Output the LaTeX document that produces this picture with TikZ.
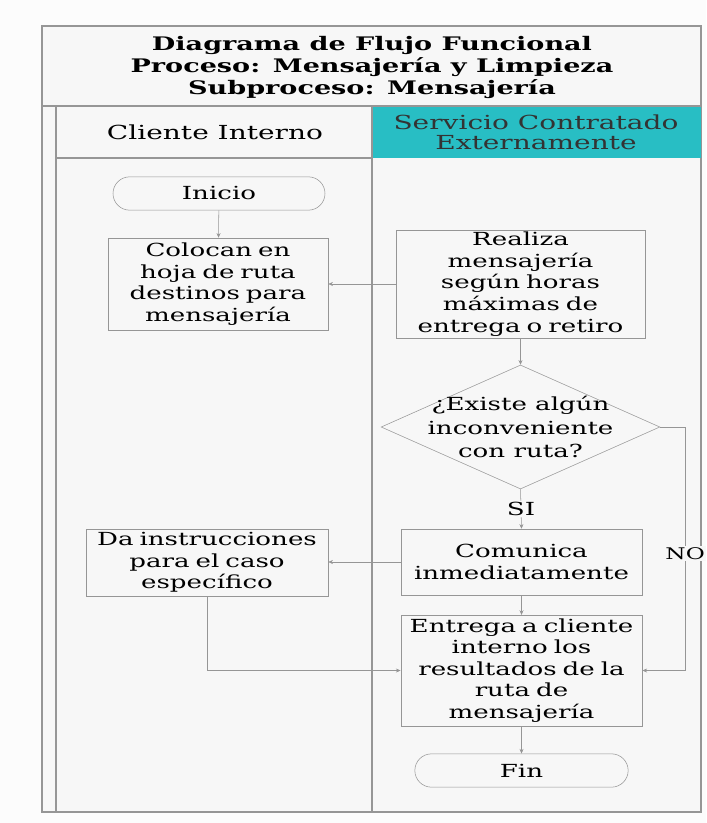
\documentclass[tikz,border=0pt]{standalone}
\usepackage{fontspec}
\setmainfont{DejaVu Serif}[FakeStretch=1.45]
\usetikzlibrary{arrows.meta,shapes.geometric}
\definecolor{lanecyan}{RGB}{40,190,196}
\definecolor{linegray}{RGB}{150,150,150}
\definecolor{pagegray}{RGB}{247,247,247}

\begin{document}
\begin{tikzpicture}[
    x=0.75pt, y=-0.75pt,
    >={Stealth[length=3.5pt,width=3pt]},
    font=\fontsize{13.5}{16.2}\selectfont,
    box/.style={rectangle, draw=linegray, align=center, inner sep=0pt},
    startend/.style={box, rounded corners=12.5pt, minimum width=#1, minimum height=25pt},
    task/.style={box, text width=#1},
    decision/.style={diamond, draw=linegray, minimum width=209pt, minimum height=93pt, inner sep=0pt},
    lanehdr/.style={align=center, font=\fontsize{14.5}{15}\selectfont},
    flow/.style={draw=linegray, ->},
    lane/.style={draw=linegray, thick}
]

    % canvas
    \useasboundingbox (0,0) rectangle (706,823);
    \fill[white!98!gray] (0,0) rectangle (706,823);

    % 1. Frame, title and lanes
    \draw[lane, fill=pagegray] (42,26) rectangle (701,812);
    \fill[lanecyan] (372,106) rectangle (701,158);
    \draw[lane] (42,106) -- (701,106);
    \draw[lane] (56,106) -- (56,812);
    \draw[lane] (56,158) -- (372,158);
    \draw[lane] (372,106) -- (372,812);
    \node[font=\fontsize{14}{16.5}\selectfont\bfseries, align=center] (title) at (372,67)
        {Diagrama de Flujo Funcional\\Proceso: Mensajería y Limpieza\\Subproceso: Mensajería};
    \node[lanehdr] (cli) at (215,132) {Cliente Interno};
    \node[lanehdr, text=black!80] (ext) at (536,132) {Servicio Contratado\\Externamente};

    % 2. Cliente Interno
    \node[startend=159pt] (ini) at (219,193.5) {Inicio};
    \node[task=165pt, minimum height=69pt] (col) at (218,284)
        {Colocan en\\hoja de ruta\\destinos para\\mensajería};
    \node[task=181.5pt, minimum height=50pt] (dai) at (207,562.5)
        {Da instrucciones\\para el caso\\específico};

    % 3. Servicio Contratado Externamente
    \node[task=187pt, minimum height=81pt] (rea) at (520.5,284)
        {Realiza\\mensajería\\según horas\\máximas de\\entrega o retiro};
    \node[decision] (dec) at (520.5,427) {};
    \node[align=center, font=\fontsize{13.5}{17.5}\selectfont] (dect) at (dec) {¿Existe algún\\inconveniente\\con ruta?};
    \node[task=181pt, minimum height=49.5pt] (com) at (521.5,562)
        {Comunica\\inmediatamente};
    \node[task=181pt, minimum height=83pt] (ent) at (521.5,670.5)
        {Entrega a cliente\\interno los\\resultados de la\\ruta de\\mensajería};
    \node[startend=160pt] (fin) at (521.5,770.5) {Fin};

    % 4. Connectors
    \draw[flow] (ini) -- (col);
    \draw[flow] (rea.west) -- (rea.west -| col.east);
    \draw[flow] (rea) -- (dec.north);
    \draw[flow] (dec.south) -- node[fill=pagegray, inner sep=1pt] {SI} (com.north);
    \draw[flow] (com.west) -- (com.west -| dai.east);
    \draw[flow] (com) -- (ent);
    \draw[flow] (dai.south) |- (ent.west);
    \draw[flow] (dec.east) -- ++(25,0) |- node[pos=0.26, fill=pagegray, inner sep=1pt, font=\fontsize{12}{12}\selectfont] {NO} (ent.east);
    \draw[flow] (ent) -- (fin);

\end{tikzpicture}
\end{document}
